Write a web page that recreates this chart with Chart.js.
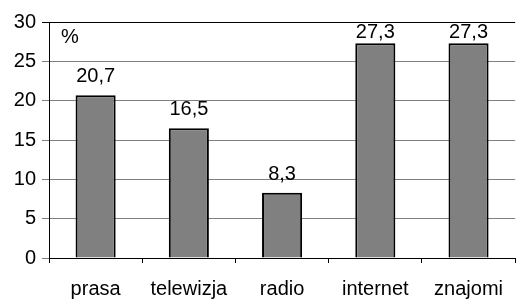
<!DOCTYPE html>
<html>
<head>
<meta charset="utf-8">
<script src="https://cdn.jsdelivr.net/npm/chart.js@4"></script>
<style>
  html, body { margin: 0; padding: 0; background: #fff; }
  #wrap { width: 517px; height: 299px; }
</style>
</head>
<body>
<div id="wrap"><canvas id="chart" width="517" height="299"></canvas></div>
<script>
// dane z wykresu
const kategorie = ["prasa", "telewizja", "radio", "internet", "znajomi"];
const wartosci = [20.7, 16.5, 8.3, 27.3, 27.3];
const osY = { min: 0, max: 30, krok: 5 };

const czcionka = "'Liberation Sans', Arial, sans-serif";

// etykiety wartości nad słupkami (z przecinkiem)
const etykietyPlugin = {
    id: "etykiety",
    afterDatasetsDraw(chart) {
        const ctx = chart.ctx;
        const meta = chart.getDatasetMeta(0);
        const area = chart.chartArea;
        ctx.save();
        ctx.font = "20px " + czcionka;
        ctx.fillStyle = "#000";
        ctx.textAlign = "center";
        ctx.textBaseline = "alphabetic";
        meta.data.forEach((bar, i) => {
            // etykieta nie wychodzi ponad obszar wykresu
            const y = Math.max(bar.y - 13, area.top + 16);
            ctx.fillText(wartosci[i].toFixed(1).replace(".", ","), bar.x, y);
        });
        // znak procentu w rogu
        ctx.textAlign = "left";
        ctx.fillText("%", area.left + 12, area.top + 21);
        ctx.restore();
    },
};

var ctx = document.getElementById("chart").getContext("2d");
new Chart(ctx, {
    type: "bar",
    data: {
        labels: kategorie,
        datasets: [
            {
                data: wartosci,
                backgroundColor: "#808080",
                borderColor: "#000",
                borderWidth: 2,
                barPercentage: 0.43,
                categoryPercentage: 1,
            },
        ],
    },
    options: {
        responsive: false,
        animation: false,
        layout: { padding: { top: 22, right: 0, bottom: 0, left: 0 } },
        plugins: {
            legend: { display: false },
            tooltip: { enabled: false },
        },
        scales: {
            x: {
                offset: true,
                afterFit: (scale) => { scale.height = 41; },
                grid: {
                    offset: true,
                    drawOnChartArea: false,
                    tickLength: 5,
                    color: "#000",
                },
                border: { color: "#000", width: 1 },
                ticks: {
                    padding: 14,
                    color: "#000",
                    font: { family: czcionka, size: 20 },
                },
            },
            y: {
                min: osY.min,
                max: osY.max,
                afterFit: (scale) => { scale.width = 49; },
                grid: {
                    tickLength: 7,
                    color: (c) => (c.tick && c.tick.value === osY.max ? "#000" : "#808080"),
                },
                border: { color: "#000", width: 1 },
                ticks: {
                    stepSize: osY.krok,
                    padding: 6,
                    color: "#000",
                    font: { family: czcionka, size: 20 },
                },
            },
        },
    },
    plugins: [etykietyPlugin],
});
</script>
</body>
</html>
